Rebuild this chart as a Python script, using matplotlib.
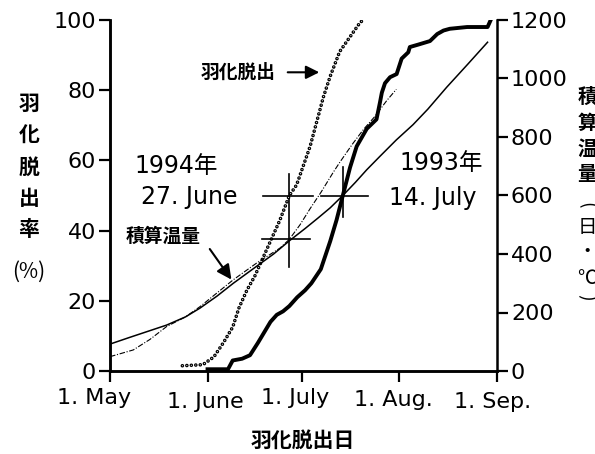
import matplotlib
matplotlib.use("Agg")
import matplotlib.pyplot as plt
from matplotlib.transforms import ScaledTranslation

# Latin text in DejaVu Sans, CJK glyphs fall through to Noto Sans CJK JP
plt.rcParams['font.family'] = ['DejaVu Sans', 'Noto Sans CJK JP']
CJK = 'Noto Sans CJK JP'

# x values are days counted from 1 May
month_ticks = [0, 31, 61, 92, 123]
month_labels = ['1. May', '1. June', '1. July', '1. Aug.', '1. Sep.']

# cumulative emergence (%) 1994
emg94_day = [23, 29.5, 33, 36, 39, 41, 43.5, 46, 50, 54, 57, 59.3, 63.6, 67.8, 70, 73,
             77.3, 79.5, 80.5]
emg94_pct = [1.5, 1.8, 4, 8, 12.5, 18, 23, 27, 35, 43, 50, 53, 64, 78, 84, 91,
             96.5, 99.3, 100]

# cumulative emergence (%) 1993
emg93_day = [31, 37.5, 39, 42, 44.5, 47, 49, 51, 53, 55, 57, 59.5, 62, 64, 67, 70, 72, 74,
             76.3, 78.4, 81.6, 84.7, 85.8, 86.4, 87.4, 89, 91.1, 92.7, 94.8, 95.3, 98,
             101.7, 104, 106, 108, 113.5, 120, 121]
emg93_pct = [0.5, 0.5, 3, 3.5, 4.5, 8, 11, 14, 16, 17, 18.5, 21, 23, 25, 29, 37, 43, 50,
             58, 64, 69, 71.7, 76.5, 79.3, 82, 83.7, 84.6, 89, 90.8, 92.3, 93,
             94, 96, 97, 97.5, 98, 98, 100]

# accumulated temperature (day-degrees) 1993
temp93_day = [0, 6, 12.7, 18, 24, 28.6, 34, 39.2, 46.6, 52, 57, 62, 66, 70, 74,
              78, 81.6, 85.8, 91, 96.3, 101, 107, 113.8, 120]
temp93_val = [92, 114, 138, 157, 185, 215, 256, 300, 358, 400, 445, 487, 522, 558, 600,
              645, 688, 734, 790, 842, 895, 970, 1050, 1124]

# accumulated temperature (day-degrees) 1994
temp94_day = [0, 7.4, 12.7, 18, 24, 28.6, 33.9, 39.2, 46.6, 54, 57, 60.4, 63.6, 67, 71,
              73, 77, 80.5, 84, 88, 91]
temp94_val = [49, 72, 108, 152, 185, 220, 266, 312, 369, 420, 450, 500, 555, 610, 680,
              713, 775, 825, 868, 925, 963]

# 50 % emergence: 27 June 1994, 14 July 1993
half94_day, half94_temp = 57, 450
half93_day, half93_temp = 74, 600

fig = plt.figure(figsize=(5.95, 4.54), dpi=100)
ax = fig.add_axes([110 / 595, 83 / 454, 387 / 595, 351 / 454])
ax2 = ax.twinx()

# emergence curves; 1994 drawn as a chain of small rings
ax.plot(emg93_day, emg93_pct, color='black', lw=2.8, solid_joinstyle='round', zorder=4)
ax.plot(emg94_day, emg94_pct, color='black', lw=2.6, linestyle=(0, (0.01, 1.23)),
        dash_capstyle='round', zorder=4)
ax.plot(emg94_day, emg94_pct, color='white', lw=0.8, linestyle=(0, (0.0325, 4.0)),
        dash_capstyle='round', zorder=5)

# temperature curves
ax2.plot(temp93_day, temp93_val, color='black', lw=1.1)
ax2.plot(temp94_day, temp94_val, color='black', lw=0.8, linestyle=(0, (5, 1.5, 1, 1.5)))

# cross marks at 50 % emergence
cross = dict(color='black', lw=1.2)
ax.plot([half94_day - 8.4, half94_day + 7.5], [50, 50], **cross)
ax.plot([half94_day, half94_day], [29.7, 56], **cross)
ax2.plot([half94_day - 8.7, half94_day + 6.6], [half94_temp, half94_temp], **cross)
ax.plot([half93_day - 7, half93_day + 8], [50, 50], **cross)
ax.plot([half93_day, half93_day], [44, 58], **cross)

ax.set_xlim(0, 123)
ax.set_ylim(0, 100)
ax2.set_ylim(0, 1200)

ax.set_xticks(month_ticks)
ax.set_xticklabels(month_labels)
ax.set_yticks(range(0, 101, 20))
ax2.set_yticks(range(0, 1201, 200))

for a in (ax, ax2):
    a.spines['top'].set_visible(False)
    for s in a.spines.values():
        s.set_linewidth(1.8)
    a.tick_params(direction='out', length=8, width=1.6, labelsize=16, pad=2)
ax.spines['right'].set_visible(False)
ax.tick_params(axis='x', pad=4)

# month labels sit a little unevenly under their ticks
shifts = [(-16, 0), (-2, -4), (-7, 0), (-6, -2), (-4, -4)]
for lab, (dx, dy) in zip(ax.get_xticklabels(), shifts):
    lab.set_transform(lab.get_transform() + ScaledTranslation(dx / 100, dy / 100,
                                                              fig.dpi_scale_trans))

# annotations
ax.text(40.7, 85.1, '羽化脱出', fontsize=13.5, fontweight='bold', family=CJK,
        ha='center', va='center')
ax.annotate('', xy=(67.4, 85.1), xytext=(55.6, 85.1),
            arrowprops=dict(arrowstyle='-|>', color='black', lw=1.5, mutation_scale=20))
ax.text(17, 38.3, '積算温量', fontsize=13.5, fontweight='bold', family=CJK,
        ha='center', va='center')
ax.annotate('', xy=(39.1, 25.4), xytext=(31.2, 35.4),
            arrowprops=dict(arrowstyle='-|>', color='black', lw=1.5, mutation_scale=22))

ax.text(21.1, 58.3, '1994年', fontsize=17, ha='center', va='center')
ax.text(25.3, 49.7, '27. June', fontsize=17, ha='center', va='center')
ax.text(105.2, 59.4, '1993年', fontsize=17, ha='center', va='center')
ax.text(102.5, 49.4, '14. July', fontsize=17, ha='center', va='center')

# axis titles
fig.text(303 / 595, 1 - 440 / 454, '羽化脱出日', fontsize=15, fontweight='bold', family=CJK,
         ha='center', va='center')
for ch, y in zip('羽化脱出率', [103, 135, 167, 198, 229]):
    fig.text(29 / 595, 1 - y / 454, ch, fontsize=15, fontweight='bold', family=CJK,
             ha='center', va='center')
fig.text(29 / 595, 1 - 272 / 454, '(%)', fontsize=15, family=CJK, ha='center', va='center')
for ch, y in zip('積算温量', [97, 123, 149, 175]):
    fig.text(587 / 595, 1 - y / 454, ch, fontsize=14, fontweight='bold', family=CJK,
             ha='center', va='center')
for ch, y in zip('日・℃', [227, 252, 278]):
    fig.text(587 / 595, 1 - y / 454, ch, fontsize=14, family=CJK, ha='center', va='center')
# brackets of the vertical unit label, turned on their side
fig.text(587 / 595, 1 - 205 / 454, '(', fontsize=14, family=CJK, rotation=-90,
         ha='center', va='center')
fig.text(587 / 595, 1 - 297 / 454, ')', fontsize=14, family=CJK, rotation=-90,
         ha='center', va='center')

fig.savefig('out.png', dpi=100)
